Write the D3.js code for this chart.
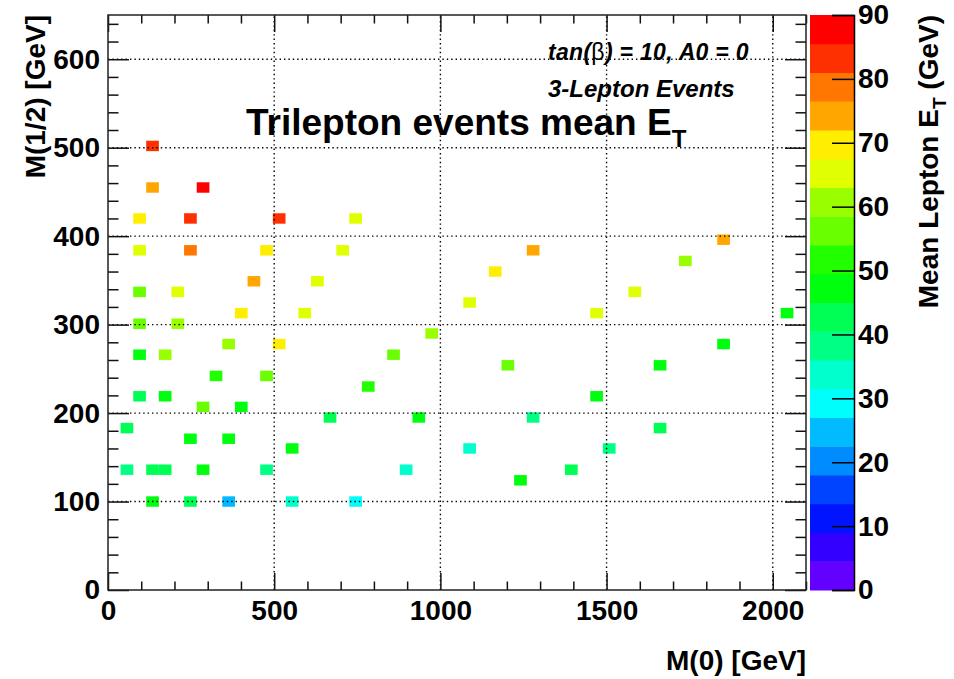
<!DOCTYPE html>
<html>
<head>
<meta charset="utf-8">
<script src="https://cdn.jsdelivr.net/npm/d3@7"></script>
<style>
  body { margin: 0; background: #fff; }
  text { font-family: "Liberation Sans", Arial, Helvetica, sans-serif; font-weight: bold; fill: #000; }
</style>
</head>
<body>
<div id="container"></div>
<script>
// bin centres (GeV) of the filled cells and their mean lepton E_T (GeV)
const m0 = [134, 134, 286, 95, 248, 515, 745, 95, 248, 477, 706, 439, 630, 95, 210,
    1279, 1165, 1088, 1852, 1737, 1585, 401, 592, 95, 210, 974, 363, 515, 95, 172,
    859, 325, 477, 783, 95, 172, 286, 401, 668, 935, 57, 248, 363, 554, 57,
    134, 172, 286, 477, 897, 134, 248, 363, 554, 745, 1470, 2043, 1852, 1203, 1661,
    1470, 1279, 1661, 1088, 1508, 1394, 1241]
const mHalf = [502, 455, 455, 420, 420, 420, 420, 384, 384, 384, 384, 349, 349, 337, 337,
    384, 360, 325, 396, 372, 337, 313, 313, 301, 301, 290, 278, 278, 266, 266,
    266, 242, 242, 230, 219, 219, 207, 207, 195, 195, 183, 171, 171, 160, 136,
    136, 136, 136, 136, 136, 100, 100, 100, 100, 100, 313, 313, 278, 254, 254,
    219, 195, 183, 160, 160, 136, 124]
const meanEt = [83, 74, 88, 70, 83, 83, 65, 65, 79, 70, 65, 74, 65, 56, 65,
    74, 70, 65, 74, 61, 65, 70, 65, 56, 61, 61, 61, 70, 47, 61,
    56, 52, 56, 52, 43, 47, 56, 47, 43, 47, 43, 47, 47, 47, 38,
    43, 43, 47, 38, 34, 47, 43, 25, 34, 29, 65, 47, 47, 56, 47,
    47, 38, 43, 34, 38, 43, 47]

const xMajor = [0, 500, 1000, 1500, 2000]
const yMajor = [0, 100, 200, 300, 400, 500, 600]
const zTicks = [0, 10, 20, 30, 40, 50, 60, 70, 80, 90]

const width = 954, height = 679
const margin = {left: 108, top: 15, right: 148, bottom: 89}
const xMax = 2100, yMax = 650, nBins = 55
const binW = xMax / nBins, binH = yMax / nBins

const x = d3.scaleLinear().domain([0, xMax]).range([margin.left, width - margin.right])
const y = d3.scaleLinear().domain([0, yMax]).range([height - margin.bottom, margin.top])

// ROOT "pretty" palette (50 colours), sampled by 20 contours
const nCont = 20, nPal = 50
const palette = d3.range(nCont).map(k => {
    const idx = Math.floor((k + 0.99) * nPal / nCont)
    return d3.hsl(280 - (idx + 1) * 280 / nPal, 1, 0.5).formatHex()
})
const color = d3.scaleQuantize().domain([0, 90]).range(palette)

const svg = d3.select('#container').append('svg')
    .attr('width', width)
    .attr('height', height)

const cells = m0.map((d, i) => ({m0: d, mh: mHalf[i], et: meanEt[i]}))

svg.append('g')
    .selectAll('rect')
    .data(cells)
    .join('rect')
    .attr('x', d => x(d.m0 - binW / 2))
    .attr('y', d => y(d.mh + binH / 2))
    .attr('width', d => x(d.m0 + binW / 2) - x(d.m0 - binW / 2))
    .attr('height', d => y(d.mh - binH / 2) - y(d.mh + binH / 2))
    .attr('fill', d => color(d.et))

// dotted grid on top of the cells
const grid = svg.append('g')
    .attr('stroke', '#000')
    .attr('stroke-width', 1.4)
    .attr('stroke-dasharray', '1.4,3')
grid.selectAll('.gx')
    .data(xMajor.filter(d => d > 0))
    .join('line')
    .attr('x1', d => x(d)).attr('x2', d => x(d))
    .attr('y1', y(0)).attr('y2', y(yMax))
grid.selectAll('.gy')
    .data(yMajor.filter(d => d > 0))
    .join('line')
    .attr('x1', x(0)).attr('x2', x(xMax))
    .attr('y1', d => y(d)).attr('y2', d => y(d))

const x0 = x(0), x1 = x(xMax), y0 = y(0), y1 = y(yMax)
const xMinor = d3.range(0, xMax + 1, 100).filter(d => !xMajor.includes(d))
const yMinor = d3.range(0, yMax + 1, 20).filter(d => !yMajor.includes(d))

function styleAxis(g) {
    g.select('.domain').remove()
    g.selectAll('line').attr('stroke', '#111').attr('stroke-width', 1.5)
    g.selectAll('text').attr('font-size', 28)
}

svg.append('g').attr('transform', `translate(0,${y0})`)
    .call(d3.axisBottom(x).tickValues(xMajor).tickSize(-17).tickPadding(10).tickFormat(d3.format('d')))
    .call(styleAxis)
svg.append('g').attr('transform', `translate(0,${y0})`)
    .call(d3.axisBottom(x).tickValues(xMinor).tickSize(-8.5).tickFormat(''))
    .call(styleAxis)
svg.append('g').attr('transform', `translate(0,${y1})`)
    .call(d3.axisTop(x).tickValues(xMajor).tickSize(-17).tickFormat(''))
    .call(styleAxis)
svg.append('g').attr('transform', `translate(0,${y1})`)
    .call(d3.axisTop(x).tickValues(xMinor).tickSize(-8.5).tickFormat(''))
    .call(styleAxis)

svg.append('g').attr('transform', `translate(${x0},0)`)
    .call(d3.axisLeft(y).tickValues(yMajor).tickSize(-21).tickPadding(8).tickFormat(d3.format('d')))
    .call(styleAxis)
svg.append('g').attr('transform', `translate(${x0},0)`)
    .call(d3.axisLeft(y).tickValues(yMinor).tickSize(-10.5).tickFormat(''))
    .call(styleAxis)
svg.append('g').attr('transform', `translate(${x1},0)`)
    .call(d3.axisRight(y).tickValues(yMajor).tickSize(-21).tickFormat(''))
    .call(styleAxis)
svg.append('g').attr('transform', `translate(${x1},0)`)
    .call(d3.axisRight(y).tickValues(yMinor).tickSize(-10.5).tickFormat(''))
    .call(styleAxis)

svg.append('rect')
    .attr('x', x0).attr('y', y1)
    .attr('width', x1 - x0).attr('height', y0 - y1)
    .attr('fill', 'none')
    .attr('stroke', '#222')
    .attr('stroke-width', 1.5)

// palette axis
const zx0 = 810, zx1 = 854
const z = d3.scaleLinear().domain([0, 90]).range([y0, y1])
const step = 90 / nCont
svg.append('g')
    .selectAll('rect')
    .data(palette)
    .join('rect')
    .attr('x', zx0)
    .attr('y', (d, i) => z((i + 1) * step))
    .attr('width', zx1 - zx0)
    .attr('height', (d, i) => z(i * step) - z((i + 1) * step) + 0.5)
    .attr('fill', d => d)

svg.append('g').attr('transform', `translate(${zx1},0)`)
    .call(d3.axisRight(z).tickValues(zTicks).tickSize(-22).tickPadding(4).tickFormat(d3.format('d')))
    .call(g => {
        g.select('.domain').attr('stroke', '#000').attr('stroke-width', 1.5)
        g.selectAll('line').attr('stroke', '#000').attr('stroke-width', 1.5)
        g.selectAll('text').attr('font-size', 28).attr('x', 4)
    })

// titles
svg.append('text')
    .attr('x', x1)
    .attr('y', 670)
    .attr('text-anchor', 'end')
    .attr('font-size', 28)
    .text('M(0) [GeV]')

svg.append('text')
    .attr('transform', `translate(45,${y1}) rotate(-90)`)
    .attr('text-anchor', 'end')
    .attr('font-size', 28)
    .text('M(1/2) [GeV]')

const zTitle = svg.append('text')
    .attr('transform', `translate(938,${y1}) rotate(-90)`)
    .attr('text-anchor', 'end')
    .attr('font-size', 28)
zTitle.append('tspan').text('Mean Lepton E')
zTitle.append('tspan').attr('font-size', 19).attr('dy', 8).text('T')
zTitle.append('tspan').attr('dy', -8).text(' (GeV)')

const title = svg.append('text')
    .attr('x', 246)
    .attr('y', 135)
    .attr('font-size', 37)
title.append('tspan').text('Trilepton events mean E')
title.append('tspan').attr('font-size', 24).attr('dy', 12).text('T')

const note = svg.append('text')
    .attr('x', 548)
    .attr('y', 60)
    .attr('font-size', 23)
    .attr('font-style', 'italic')
    .attr('letter-spacing', 0.3)
note.append('tspan').text('tan(')
note.append('tspan').attr('font-style', 'normal').attr('font-weight', 'normal').text('β')
note.append('tspan').text(') = 10, A0 = 0')

svg.append('text')
    .attr('x', 548)
    .attr('y', 97)
    .attr('font-size', 24)
    .attr('font-style', 'italic')
    .text('3-Lepton Events')
</script>
</body>
</html>
